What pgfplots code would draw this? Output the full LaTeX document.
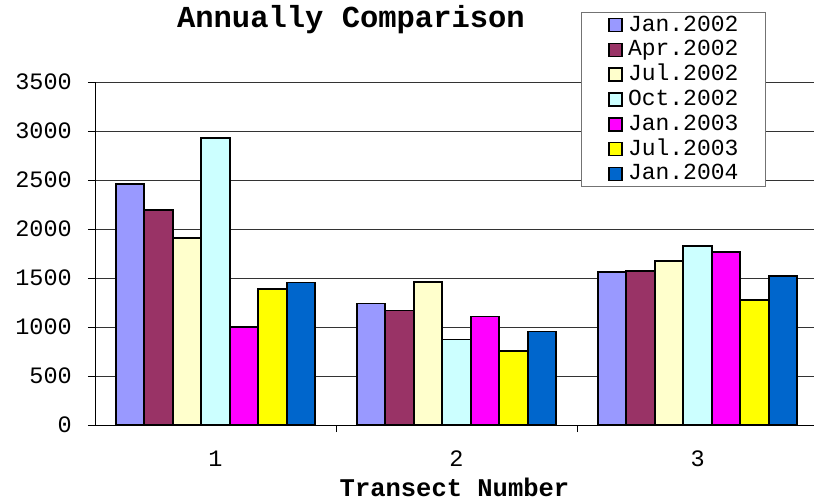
\documentclass[border=0pt]{standalone}
\usepackage{fontspec}
\setmainfont{Liberation Mono}
\usepackage{pgfplots}
\pgfplotsset{compat=1.18}
\definecolor{cA}{HTML}{9999FF}
\definecolor{cB}{HTML}{993366}
\definecolor{cC}{HTML}{FFFFCC}
\definecolor{cD}{HTML}{CCFFFF}
\definecolor{cE}{HTML}{FF00FF}
\definecolor{cF}{HTML}{FFFF00}
\definecolor{cG}{HTML}{0066CC}
\begin{document}
\begin{tikzpicture}
\useasboundingbox (-95bp,-76bp) rectangle (719bp,425bp);
\begin{axis}[
  at={(0,0)}, anchor=south west,
  scale only axis, width=719bp, height=343bp,
  xmin=0.5, xmax=3.483, ymin=0, ymax=3500,
  ybar=0pt, bar width=0.1183,
  axis x line*=bottom, axis y line*=left,
  axis line style={black, line width=0.9bp},
  ytick={0,500,...,3500},
  ymajorgrids, major grid style={black!80, line width=0.8bp},
  tick align=outside, major tick length=7bp,
  tick style={black, line width=0.8bp},
  xtick={1.5,2.5}, xticklabels={},
  extra x ticks={1,2,3}, extra x tick labels={1,2,3},
  extra x tick style={major tick length=0pt, grid=none},
  /pgf/number format/assume math mode=true,
  /pgf/number format/1000 sep={},
  ticklabel style={font=\fontsize{23.5bp}{28bp}\selectfont},
  yticklabel style={anchor=east, inner sep=0pt, xshift=-16bp},
  xticklabel style={anchor=north, inner sep=0pt, yshift=-26bp},
  title={Annually Comparison},
  title style={at={(axis description cs:0.356,1.14)}, anchor=base, inner sep=0pt,
    font=\bfseries\fontsize{30.5bp}{36bp}\selectfont},
  xlabel={Transect Number},
  xlabel style={at={(axis description cs:0.5,-0.207)}, anchor=base, inner sep=0pt,
    font=\bfseries\fontsize{25.5bp}{30bp}\selectfont},
  legend style={at={(axis description cs:0.676,1.204)}, anchor=north west,
    draw=black!55, line width=0.8bp, fill=white,
    inner xsep=27bp, inner ysep=1.6bp, row sep=2.8bp, column sep=5bp,
    font=\fontsize{23bp}{27bp}\selectfont,
    nodes={inner sep=0pt, text height=17bp, text depth=5bp}},
  legend cell align=left,
  every axis plot post/.append style={
    legend image code/.code={\draw[##1, line width=1.6bp] (0bp,-6.5bp) rectangle (13bp,6.5bp);}},
]
\addplot[fill=cA, draw=black, line width=1.8bp] coordinates {(1,2463) (2,1239) (3,1561)};
\addplot[fill=cB, draw=black, line width=1.8bp] coordinates {(1,2191) (2,1168) (3,1575)};
\addplot[fill=cC, draw=black, line width=1.8bp] coordinates {(1,1909) (2,1456) (3,1676)};
\addplot[fill=cD, draw=black, line width=1.8bp] coordinates {(1,2929) (2,872) (3,1826)};
\addplot[fill=cE, draw=black, line width=1.8bp] coordinates {(1,1002) (2,1107) (3,1768)};
\addplot[fill=cF, draw=black, line width=1.8bp] coordinates {(1,1386) (2,754) (3,1273)};
\addplot[fill=cG, draw=black, line width=1.8bp] coordinates {(1,1454) (2,954) (3,1524)};
\legend{Jan.2002,Apr.2002,Jul.2002,Oct.2002,Jan.2003,Jul.2003,Jan.2004}
\end{axis}
\end{tikzpicture}
\end{document}
